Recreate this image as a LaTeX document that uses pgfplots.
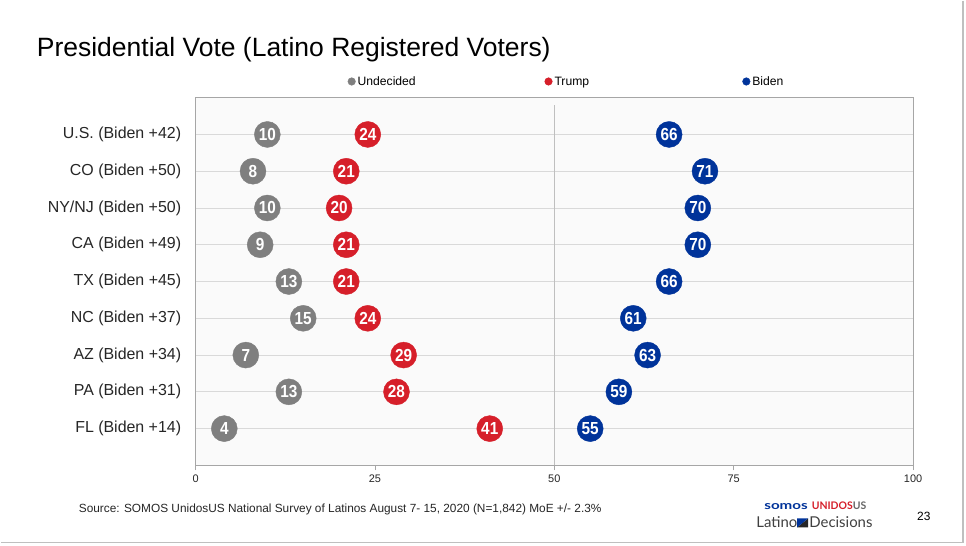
\documentclass[border=0pt]{standalone}
\usepackage{graphicx}
\usepackage{pgfplots}
\pgfplotsset{compat=1.18}
\usepackage{fontspec}
\setmainfont{Liberation Sans}
\newfontfamily\logofont{Lato}
\definecolor{undc}{HTML}{7F7F7F}
\definecolor{trmp}{HTML}{D61F2A}
\definecolor{bidn}{HTML}{00339A}
\definecolor{gridc}{HTML}{D9D9D9}
\definecolor{framec}{HTML}{A6A6A6}
\definecolor{txt}{HTML}{262626}
\begin{document}
\begin{tikzpicture}[x=1bp,y=1bp]
\fill[white] (0,0) rectangle (966,-545);
\draw[black!25, line width=1.5bp] (963,0) -- (963,-542) -- (0,-542);
\node[anchor=base west, font=\fontsize{26.6}{30}\selectfont, text=black, inner sep=0] at (36,-56) {Presidential Vote (Latino Registered Voters)};
\begin{axis}[
  at={(195bp,-465bp)}, anchor=south west,
  scale only axis, width=718bp, height=368bp,
  xmin=0, xmax=100, ymin=0, ymax=10,
  axis background/.style={fill=black!2},
  axis line style={framec, line width=0.9bp},
  xtick={0,25,50,75,100},
  tick align=outside, major tick length=5bp,
  xtick style={framec, line width=0.8bp},
  xtick pos=bottom,
  ytick={1,...,9},
  yticklabels={FL (Biden +14), PA (Biden +31), AZ (Biden +34), NC (Biden +37), TX (Biden +45), CA (Biden +49), NY/NJ (Biden +50), CO (Biden +50), U.S. (Biden +42)},
  ytick style={draw=none},
  ymajorgrids, major grid style={gridc, line width=0.8bp},
  yticklabel style={font=\fontsize{16}{18}\selectfont, text=txt, xshift=-6bp},
  xticklabel style={font=\fontsize{11}{13}\selectfont, text=txt, yshift=-1bp},
  /pgf/number format/assume math mode=true,
  only marks, mark=*, mark size=13bp,
  every mark/.append style={yscale=1.1},
  point meta=x,
  nodes near coords,
  every node near coord/.append style={anchor=center, text=white, font=\bfseries\fontsize{17.5}{19}\selectfont, xscale=0.88, inner sep=0},
  legend columns=3,
  legend style={at={(0.2117,1.044)}, anchor=west, draw=none, fill=none, font=\fontsize{12.2}{14}\selectfont, text=black, inner sep=0, column sep=0bp},
  legend image code/.code={\fill[#1] (0bp,0bp) circle (3.8bp);},
  clip=false,
]
\draw[black!25, line width=0.8bp] (axis cs:50,0) -- (axis cs:50,9.8);
\addplot[undc, forget plot] coordinates {(4,1) (13,2) (7,3) (15,4) (13,5) (9,6) (10,7) (8,8) (10,9)};
\addplot[trmp, forget plot] coordinates {(41,1) (28,2) (29,3) (24,4) (21,5) (21,6) (20,7) (21,8) (24,9)};
\addplot[bidn, forget plot] coordinates {(55,1) (59,2) (63,3) (61,4) (66,5) (70,6) (70,7) (71,8) (66,9)};
\addlegendimage{undc}
\addlegendentry{\makebox[185bp][l]{Undecided\vphantom{Udp}}}
\addlegendimage{trmp}
\addlegendentry{\makebox[186bp][l]{Trump\vphantom{Udp}}}
\addlegendimage{bidn}
\addlegendentry{Biden\vphantom{Udp}}
\end{axis}
\node[anchor=base west, font=\fontsize{11.9}{13}\selectfont, text=txt, inner sep=0] at (78,-512) {Source: SOMOS UnidosUS National Survey of Latinos August 7- 15, 2020 (N=1,842) MoE +/- 2.3\%};
\node[anchor=base west, inner sep=0, font=\logofont\bfseries\fontsize{10.5}{12}\selectfont] at (764,-509) {\textcolor{bidn}{\scalebox{1.45}[1.1]{somos}}\hspace{4bp}\textcolor{trmp}{UNIDOS}\textcolor{black!60}{US}};
\node[anchor=base west, inner sep=0, font=\logofont\fontsize{15}{17}\selectfont, text=black!75] at (756,-527) {Latino\hspace{12bp}Decisions};
\fill[black!85] (797,-527) -- (808,-527) -- (808,-518) -- cycle;
\fill[bidn] (797,-527) -- (797,-518) -- (808,-518) -- cycle;
\node[anchor=base west, inner sep=0, font=\fontsize{12}{14}\selectfont, text=black] at (917,-520) {23};
\end{tikzpicture}
\end{document}
